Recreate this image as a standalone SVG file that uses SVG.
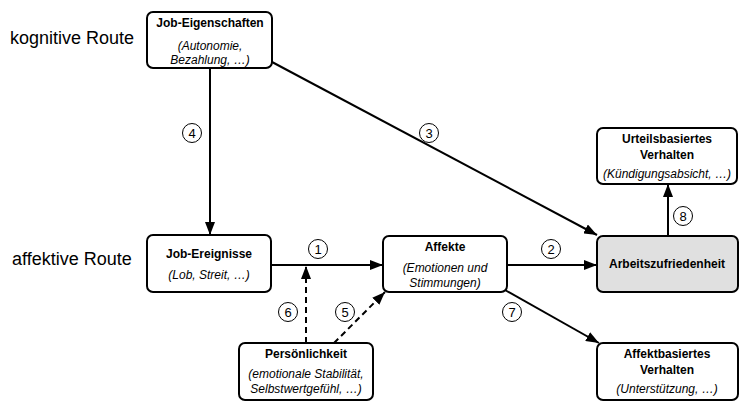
<svg xmlns="http://www.w3.org/2000/svg" width="751" height="412" viewBox="0 0 751 412">
<defs>
<marker id="ah" viewBox="0 0 13 10" refX="13" refY="5" markerWidth="13" markerHeight="10" markerUnits="userSpaceOnUse" orient="auto">
<path d="M0,0 L13,5 L0,10 z" fill="#000"/>
</marker>
<style>
.box{fill:#fff;stroke:#000;stroke-width:2}
.b{font-family:"Liberation Sans",Arial,sans-serif;font-size:12px;font-weight:bold;text-anchor:middle;fill:#000}
.i{font-family:"Liberation Sans",Arial,sans-serif;font-size:12px;font-style:italic;text-anchor:middle;fill:#000}
.side{font-family:"Liberation Sans",Arial,sans-serif;font-size:18px;fill:#000}
.c{fill:#fff;stroke:#000;stroke-width:1}
.n{font-family:"Liberation Sans",Arial,sans-serif;font-size:13px;text-anchor:middle;fill:#000}
.ln{stroke:#000;stroke-width:2;fill:none;marker-end:url(#ah)}
.dl{stroke:#000;stroke-width:2;fill:none;stroke-dasharray:6,4;marker-end:url(#ah)}
</style>
</defs>
<rect width="751" height="412" fill="#fff"/>
<text class="side" x="10" y="44">kognitive Route</text>
<text class="side" x="12" y="265">affektive Route</text>
<g id="connectors">
<line class="ln" x1="210" y1="68" x2="210" y2="235"/>
<line class="ln" x1="272" y1="62" x2="597" y2="235"/>
<line class="ln" x1="271" y1="265" x2="383" y2="265"/>
<line class="ln" x1="507" y1="265" x2="597" y2="265"/>
<line class="ln" x1="668" y1="236" x2="668" y2="184"/>
<line class="ln" x1="505" y1="290" x2="599" y2="343"/>
<line class="dl" x1="306" y1="343" x2="306" y2="266"/>
<line class="dl" x1="334" y1="343" x2="385" y2="292"/>
<circle class="c" cx="318" cy="249" r="9.5"/><text class="n" x="318" y="253.5">1</text>
<circle class="c" cx="551" cy="249" r="9.5"/><text class="n" x="551" y="253.5">2</text>
<circle class="c" cx="429" cy="133" r="9.5"/><text class="n" x="429" y="137.5">3</text>
<circle class="c" cx="192" cy="133" r="9.5"/><text class="n" x="192" y="137.5">4</text>
<circle class="c" cx="345" cy="312" r="9.5"/><text class="n" x="345" y="316.5">5</text>
<circle class="c" cx="288" cy="312" r="9.5"/><text class="n" x="288" y="316.5">6</text>
<circle class="c" cx="512" cy="312" r="9.5"/><text class="n" x="512" y="316.5">7</text>
<circle class="c" cx="683" cy="216" r="9.5"/><text class="n" x="683" y="220.5">8</text>
</g>
<g id="job-eigenschaften">
<rect class="box" x="147" y="12" width="125" height="56" rx="6"/>
<text class="b" x="210" y="27">Job-Eigenschaften</text>
<text class="i" x="210" y="50">(Autonomie,</text>
<text class="i" x="210" y="64">Bezahlung, …)</text>
</g>
<g id="urteilsbasiertes-verhalten">
<rect class="box" x="597" y="128" width="140" height="56" rx="6"/>
<text class="b" x="667" y="143">Urteilsbasiertes</text>
<text class="b" x="667" y="159">Verhalten</text>
<text class="i" x="667" y="178">(Kündigungsabsicht, …)</text>
</g>
<g id="job-ereignisse">
<rect class="box" x="147" y="235" width="124" height="57" rx="6"/>
<text class="b" x="209" y="258">Job-Ereignisse</text>
<text class="i" x="209" y="279">(Lob, Streit, …)</text>
</g>
<g id="affekte">
<rect class="box" x="383" y="236" width="124" height="56" rx="6"/>
<text class="b" x="445" y="251">Affekte</text>
<text class="i" x="445" y="272">(Emotionen und</text>
<text class="i" x="445" y="287">Stimmungen)</text>
</g>
<g id="arbeitszufriedenheit">
<rect class="box" x="597" y="236" width="141" height="56" rx="6" style="fill:#e0e0e0"/>
<text class="b" x="667" y="268">Arbeitszufriedenheit</text>
</g>
<g id="persoenlichkeit">
<rect class="box" x="239" y="343" width="134" height="57" rx="6"/>
<text class="b" x="306" y="358">Persönlichkeit</text>
<text class="i" x="306" y="378">(emotionale Stabilität,</text>
<text class="i" x="306" y="393">Selbstwertgefühl, …)</text>
</g>
<g id="affektbasiertes-verhalten">
<rect class="box" x="597" y="343" width="141" height="57" rx="6"/>
<text class="b" x="667" y="358">Affektbasiertes</text>
<text class="b" x="667" y="374">Verhalten</text>
<text class="i" x="667" y="393">(Unterstützung, …)</text>
</g>
</svg>
